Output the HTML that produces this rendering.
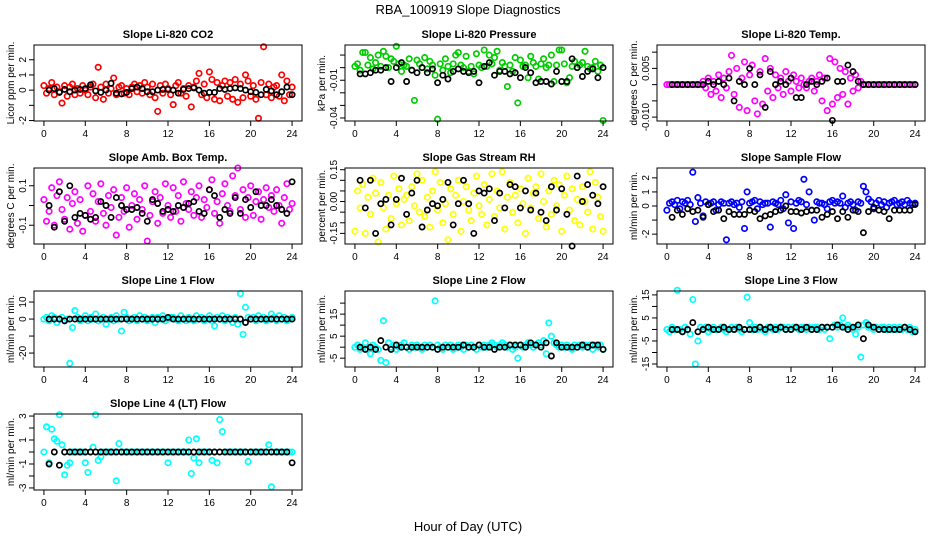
<!DOCTYPE html>
<html><head><meta charset="utf-8"><title>RBA_100919 Slope Diagnostics</title>
<style>
html,body{margin:0;padding:0;background:#fff;}
svg{display:block;font-family:"Liberation Sans",Arial,sans-serif;}
</style></head>
<body>
<svg id="chart" width="936" height="540" viewBox="0 0 936 540">
<rect x="0" y="0" width="936" height="540" fill="#fff"/>
<text x="468" y="14" text-anchor="middle" font-size="13">RBA_100919  Slope Diagnostics</text>
<text x="468" y="531" text-anchor="middle" font-size="13">Hour of Day (UTC)</text>
</svg>
<script>
// ---------- shared time stamps ----------
const hoursC = [0,0.25,0.5,0.75,1,1.25,1.5,1.75,2,2.25,2.5,2.75,3,3.25,3.5,3.75,4,4.25,4.5,4.75,5,5.25,5.5,5.75,6,6.25,6.5,6.75,7,7.25,7.5,7.75,8,8.25,8.5,8.75,9,9.25,9.5,9.75,10,10.25,10.5,10.75,11,11.25,11.5,11.75,12,12.25,12.5,12.75,13,13.25,13.5,13.75,14,14.25,14.5,14.75,15,15.25,15.5,15.75,16,16.25,16.5,16.75,17,17.25,17.5,17.75,18,18.25,18.5,18.75,19,19.25,19.5,19.75,20,20.25,20.5,20.75,21,21.25,21.5,21.75,22,22.25,22.5,22.75,23,23.25,23.5,23.75,24];
const hoursK = [0.5,1,1.5,2,2.5,3,3.5,4,4.5,5,5.5,6,6.5,7,7.5,8,8.5,9,9.5,10,10.5,11,11.5,12,12.5,13,13.5,14,14.5,15,15.5,16,16.5,17,17.5,18,18.5,19,19.5,20,20.5,21,21.5,22,22.5,23,23.5,24];
const xTicks = [0,4,8,12,16,20,24];

// ---------- panel data ----------
const co2Slope = [0.3,-0.2,0.1,0.5,-0.3,0.2,-0.1,-0.85,0.3,-0.4, 0.2,0.4,-0.3,0.1,-0.2,0.3,0.0,-0.3,0.2,0.4, -0.5,1.5,0.2,-0.6,0.4,-0.2,0.1,0.8,-0.3,0.2, 0.3,-0.2,0.1,-0.3,0.2,0.4,-0.1,0.3,-0.2,0.5, 0.2,-0.3,0.4,-0.5,-1.4,0.3,-0.2,0.4,0.1,-0.3, -0.95,0.3,0.5,-0.2,0.1,-0.4,0.3,-1.1,0.2,0.6, 1.1,-0.3,0.4,-0.5,1.2,0.7,-0.6,0.5,-0.7,0.3, 0.6,-0.4,0.5,-0.6,0.7,-0.8,0.4,-0.5,1.0,0.6, -0.4,0.3,-0.6,-1.85,0.5,2.85,-0.3,0.4,-0.5,0.2, 0.3,-0.4,1.0,-0.7,0.6,-0.3,0.2];
const co2Ref = [0.0,0.1,-0.15,0.05,-0.1,0.0,0.05,0.1,0.35,-0.05,-0.15,0.0,0.45,-0.2,-0.25,-0.15,0.1,0.2,0.1,-0.1,-0.1,0.0,0.05,0.05,0.0,-0.2,0.05,0.1,0.15,0.0,-0.2,-0.15,-0.15,0.1,0.05,0.1,0.15,0.1,0.0,-0.1,-0.15,-0.3,0.05,-0.05,-0.3,-0.1,0.2,-0.3];

const pressSlopeMilli = [1,3,-2,12,12,2,8,-1,4,10, 1,13,9,0,7,5,17,3,-3,2, 1,7,-2,-26,6,3,0,8,-1,5, 2,-6,-41,3,-2,7,1,-4,3,10, 12,2,0,9,-3,1,-5,11,2,0, 14,1,10,3,8,13,-2,4,1,-15, 2,-3,8,-28,6,1,2,-8,9,4, 1,-9,3,7,0,2,10,-11,2,14, 14,3,-12,-8,1,5,0,2,4,13, 1,-1,0,5,-3,2,-42];
const pressRefMilli = [-5,-5,-4,-2,-2,0,-11,0,4,-11, -2,-4,0,-4,-1,-12,-6,-9,-3,-1, -3,-4,-3,-12,1,4,-6,-3,-3,-5, -4,-8,0,-4,-12,-11,-11,-13,-3,-11, -11,7,0,-7,-3,-1,-8,0];

const tempSlopeMilli = [0,0,0,0,0,0,0,0,0,0, 0,0,0,0,1,-1,2,-3,1,-2, 3,-4,2,-1,4,9,-3,5,-7,2, 7,-8,3,6,-5,-9,4,-6,8,-2, 5,-4,3,-1,2,-3,4,1,-2,3, 1,-1,2,0,-1,1,2,-2,1,3, -5,2,-8,8,-6,7,-4,5,-3,4, -6,2,-2,3,-1,1,0,0,0,0, 0,0,0,0,0,0,0,0,0,0, 0,0,0,0,0,0,0];
const tempRefMilli = [0,0,0,0,0,0,0,1, 0,1,0,2,-5,1,0,5, 0,3,-7,4,0,1,0,2, -4,-4,0,1,0,1,2,-11, 1,1,6,4,1,0,0,0, 0,0,0,0,0,0,0,0];

const boxTempCenti = [3,-8,-3,9,-10,5,12,-2,-7,4, -12,1,7,-9,3,-13,-5,10,-3,6, -8,2,11,-4,-10,5,-1,8,-15,-6, 4,-3,9,-11,0,6,-7,3,-2,10, -18,-5,2,7,-9,4,-4,11,0,-6, 9,-3,5,-8,12,1,-2,7,-5,4, 10,-6,3,-1,8,13,-4,2,-9,6, 11,0,-3,15,5,19,-2,8,-6,4, 10,-5,2,7,-7,3,9,-1,5,-3, 8,0,-9,4,11,-2,1];
const boxTempRefCenti = [0,-11,7,-8,10,-6,-4,-5, -7,-6,2,0,-6,4,0,-2, -2,-1,-4,-8,3,1,-3,-2, -3,0,-1,1,2,-3,-4,8, 5,-6,-2,-4,4,-4,3,-1, 7,0,0,3,0,-2,-4,12];

const rhSlopeCenti = [-14,5,-3,8,-15,2,-6,11,4,-19, 9,-3,-13,3,-8,12,-1,6,-11,1, 3,-9,7,-2,13,-5,10,-7,2,-12, 5,14,-4,9,-10,-1,-18,6,-6,3, 10,-14,0,7,-4,-9,4,12,-2,-6, 8,-11,1,13,-7,5,-3,14,-13,2, 9,-5,3,-10,6,-1,-15,11,-3,4, 7,-8,13,0,-12,5,-6,10,-2,8, -14,3,12,-4,6,-9,1,-11,7,0, -5,14,-13,9,2,-7,-14];
const rhRefCenti = [10,-3,10,-15,-1,1,-11,1,11,-6, 4,10,-12,-4,-1,-2,1,9,-11,-1, 10,-1,-15,5,4,6,-9,4,-3,8, 7,-3,5,-4,4,-5,-9,7,-4,6, -6,-21,12,0,8,3,-1,7];

const sampleFlowDeci = [-3,2,3,1,4,-2,3,2,4,1, 24,-11,6,2,-7,3,1,2,3,-3, 1,3,2,-24,2,3,1,2,-1,3, -16,10,2,3,4,-2,3,1,2,2, -15,3,2,1,4,-2,8,-12,3,-16, 2,4,3,19,1,10,-3,-10,3,2, 2,1,-2,3,4,2,3,2,7,-1, 2,3,1,-3,3,2,14,10,5,3, -2,2,4,1,3,-1,2,3,4,1, 2,3,1,4,2,1,2];
const sampleFlowRefDeci = [-8,-3,-6,-2,-4,-3,-8,1,-4,-3, -9,-4,-6,-6,-6,-3,-4,-9,-7,-6, -4,-3,0,-4,-4,-5,-4,-3,-3,-8, -6,-4,-9,-4,-8,-3,-4,-19,-4,-1, -3,-4,-9,-3,-3,-3,-3,1];

const line1Flow = [0,1,-1,2,1,-2,0,1,-1,0, -26,-5,5,1,-1,0,2,-1,1,0, 3,-1,0,1,-3,0,1,-1,2,0, -7,4,1,-1,0,1,-1,2,0,1, -1,0,1,-2,1,0,2,-1,0,1, 1,0,-1,2,0,-1,1,0,-1,2, 0,1,-1,0,2,-1,-4,1,0,2, -1,1,0,-2,1,-3,15,-9,7,1, 0,1,-1,2,0,1,-1,0,3,1, -1,2,0,1,-1,0,1];
const line1Ref = [0,0,0,-1,0,0,0,0,0,0, 0,0,0,0,0,0,0,0,0,0, 0,0,0,1,0,0,0,0,0,0, 0,0,0,0,0,0,0,0,-2,0, 0,0,0,0,0,0,0,0];

const line2Flow = [0,1,-1,0,2,-1,-3,1,0,-1, -6,12,-7,2,0,1,-1,0,1,2, 0,-1,1,0,1,0,-1,1,0,1, 0,21,1,0,-1,1,0,1,-1,0, 1,0,-1,1,0,1,0,-1,1,0, 1,0,1,2,1,0,1,2,1,0, 1,-1,0,-5,1,0,1,2,1,0, 1,2,1,3,-3,11,5,2,1,0, 1,0,1,0,-1,1,0,1,0,1, 0,1,-1,1,0,1,-1];
const line2Ref = [0,-1,0,-1,3,0,-1,1,0,0, 0,0,0,0,0,-1,0,0,0,0, 1,0,0,1,0,0,-1,0,0,1, 1,1,0,2,1,0,2,-4,2,0, 0,0,0,1,0,1,1,-1];

const line3Flow = [0,-1,1,0,17,0,-1,1,0,-2, 13,-15,-5,1,0,1,-1,0,1,0, 0,1,0,-1,0,1,0,1,0,-1, 0,14,3,0,1,0,1,0,-1,1, 1,0,1,0,1,1,0,1,0,1, 1,0,1,1,0,1,0,1,1,0, 1,0,1,-4,1,2,1,2,5,1, 2,1,0,-2,1,-12,2,3,1,1, 0,1,0,1,1,0,1,0,1,0, 1,0,1,0,1,-1,0];
const line3Ref = [0,0,-1,0,3,-1,0,1,0,0, 1,0,0,1,0,0,0,1,0,1, 0,1,0,0,1,0,1,0,0,1, 1,1,2,1,0,1,2,-4,2,1, 0,0,0,0,0,1,0,-1];

const line4Flow = [0,2.1,-0.9,1.9,1.1,0.9,3.1,0.6,-1.9,-1.1, -0.9,0,0,0,0,0,-0.9,-1.7,0,0.4, 3.1,-0.7,-0.4,0,0,0,0,0,-2.4,0.7, 0,0,0,0,0,0,0,0,0,0, 0,0,0,0,0,0,0,0,-0.9,0, 0,0,0,0,0,0,1,-1.8,-0.5,1.1, -0.9,0,0,0,0,-0.7,0,-0.9,2.7,1.7, 0,0,0,0,0,0,0,0,0,-0.8, 0,0,0,0,0,0,0,0.6,-2.9,0, 0,0,0,0,0,0,0];
const line4Ref = [-1,0,-1.1,0,0,0,0,0,0,0, 0,0,0,0,0,0,0,0,0,0, 0,0,0,0,0,0,0,0,0,0, 0,0,0,0,0,0,0,0,0,0, 0,0,0,0,0,0,0,-0.9];

// ---------- y tick values & labels ----------
const co2Ticks = [-2,-1,0,1,2];            const co2Labels = ["-2","","0","1","2"];
const pressTicks = [-40,-30,-20,-10,0,10]; const pressLabels = ["-0.04","","","-0.01","",""];
const tempTicks = [-10,-5,0,5,10];         const tempLabels = ["-0.010","","","0.005",""];
const boxTicks = [-10,0,10];               const boxLabels = ["-0.1","","0.1"];
const rhTicks = [-15,-10,-5,0,5,10,15];    const rhLabels = ["-0.15","","","0.00","","","0.15"];
const sampleTicks = [-20,-10,0,10,20];     const sampleLabels = ["-2","","0","1","2"];
const l1Ticks = [-20,-10,0,10];            const l1Labels = ["-20","","0","10"];
const l2Ticks = [-5,0,5,10,15,20];         const l2Labels = ["-5","","5","","15",""];
const l3Ticks = [-15,-10,-5,0,5,10,15];    const l3Labels = ["-15","","-5","","5","","15"];
const l4Ticks = [-3,-2,-1,0,1,2,3];        const l4Labels = ["-3","","-1","","1","","3"];

// ---------- panel definitions (layout) ----------
const panels = [
 {id:"co2",title:"Slope Li-820 CO2",ylab:"Licor ppm per min.",col:"#ff0000",y:co2Slope,k:co2Ref,ymin:-2.03,ymax:2.97,ticks:co2Ticks,labels:co2Labels,c:0,r:0},
 {id:"pressure",title:"Slope Li-820 Pressure",ylab:"kPa per min.",col:"#00cd00",y:pressSlopeMilli,k:pressRefMilli,ymin:-42.4,ymax:18,ticks:pressTicks,labels:pressLabels,c:1,r:0},
 {id:"temp",title:"Slope Li-820 Temp.",ylab:"degrees C per min.",col:"#ff00ff",y:tempSlopeMilli,k:tempRefMilli,ymin:-11.2,ymax:12.2,ticks:tempTicks,labels:tempLabels,c:2,r:0},
 {id:"box-temp",title:"Slope Amb. Box Temp.",ylab:"degrees C per min.",col:"#ff00ff",y:boxTempCenti,k:boxTempRefCenti,ymin:-19.5,ymax:19,ticks:boxTicks,labels:boxLabels,c:0,r:1},
 {id:"rh",title:"Slope Gas Stream RH",ylab:"percent per min.",col:"#ffff00",y:rhSlopeCenti,k:rhRefCenti,ymin:-20,ymax:15.8,ticks:rhTicks,labels:rhLabels,c:1,r:1},
 {id:"sample-flow",title:"Slope Sample Flow",ylab:"ml/min per min.",col:"#0000ff",y:sampleFlowDeci,k:sampleFlowRefDeci,ymin:-27,ymax:27,ticks:sampleTicks,labels:sampleLabels,c:2,r:1},
 {id:"line1",title:"Slope Line 1 Flow",ylab:"ml/min per min.",col:"#00ffff",y:line1Flow,k:line1Ref,ymin:-28.2,ymax:16.5,ticks:l1Ticks,labels:l1Labels,c:0,r:2},
 {id:"line2",title:"Slope Line 2 Flow",ylab:"ml/min per min.",col:"#00ffff",y:line2Flow,k:line2Ref,ymin:-9,ymax:25.5,ticks:l2Ticks,labels:l2Labels,c:1,r:2},
 {id:"line3",title:"Slope Line 3 Flow",ylab:"ml/min per min.",col:"#00ffff",y:line3Flow,k:line3Ref,ymin:-16.3,ymax:16.7,ticks:l3Ticks,labels:l3Labels,c:2,r:2},
 {id:"line4",title:"Slope Line 4 (LT) Flow",ylab:"ml/min per min.",col:"#00ffff",y:line4Flow,k:line4Ref,ymin:-3.17,ymax:3.17,ticks:l4Ticks,labels:l4Labels,c:0,r:3}
];

const NS = "http://www.w3.org/2000/svg";
const svg = document.getElementById("chart");
const colX = [34, 345, 657];
const rowY = [45, 168, 291, 414];
const PW = 268, PH = 76;

function mk(tag, attrs, parent){
  const e = document.createElementNS(NS, tag);
  for (const a in attrs) e.setAttribute(a, attrs[a]);
  parent.appendChild(e);
  return e;
}

panels.forEach(p => {
  const L = colX[p.c], T = rowY[p.r];
  const g = mk("g", {}, svg);
  
  
  const xs = v => L + (v + 0.96) / 25.92 * PW;
  const ys = v => T + PH - (v - p.ymin) / (p.ymax - p.ymin) * PH;

  const t = mk("text", {x: L + PW/2, y: T - 7, "text-anchor":"middle", "font-size":"11", "font-weight":"bold"}, g);
  t.textContent = p.title;
  
  

  const yl = mk("text", {x: 0, y: 0, "text-anchor":"middle", "font-size":"10", transform:`translate(${L-20},${T+PH/2}) rotate(-90)`}, g);
  yl.textContent = p.ylab;
  
  

  const sg = mk("g", {fill:"none", stroke:p.col, "stroke-width":"1.7"}, g);
  
  
  p.y.forEach((v, i) => {
    const c = mk("circle", {cx: xs(hoursC[i]).toFixed(1), cy: ys(v).toFixed(1), r: 2.7}, sg);
    
    
  });
  const kg = mk("g", {fill:"none", stroke:"#000", "stroke-width":"1.7"}, g);
  
  
  p.k.forEach((v, i) => {
    const c = mk("circle", {cx: xs(hoursK[i]).toFixed(1), cy: ys(v).toFixed(1), r: 2.6}, kg);
    
    
  });

  const box = mk("rect", {x: L, y: T, width: PW, height: PH, fill:"none", stroke:"#000", "stroke-width":"1"}, g);
  
  

  const xg = mk("g", {}, g);
  
  
  xTicks.forEach(v => {
    const x = xs(v);
    mk("line", {x1:x, x2:x, y1:T+PH, y2:T+PH+5, stroke:"#000"}, xg);
    const tl = mk("text", {x:x, y:T+PH+16, "text-anchor":"middle", "font-size":"10"}, xg);
    tl.textContent = v;
    
    
  });
  const ygr = mk("g", {}, g);
  
  
  p.ticks.forEach((v, i) => {
    const y = ys(v);
    mk("line", {x1:L-5, x2:L, y1:y, y2:y, stroke:"#000"}, ygr);
    if (p.labels[i]) {
      const tl = mk("text", {x:0, y:0, "text-anchor":"middle", "font-size":"10", transform:`translate(${L-8},${y}) rotate(-90)`}, ygr);
      tl.textContent = p.labels[i];
      
      
    }
  });
});
</script>
</body></html>
